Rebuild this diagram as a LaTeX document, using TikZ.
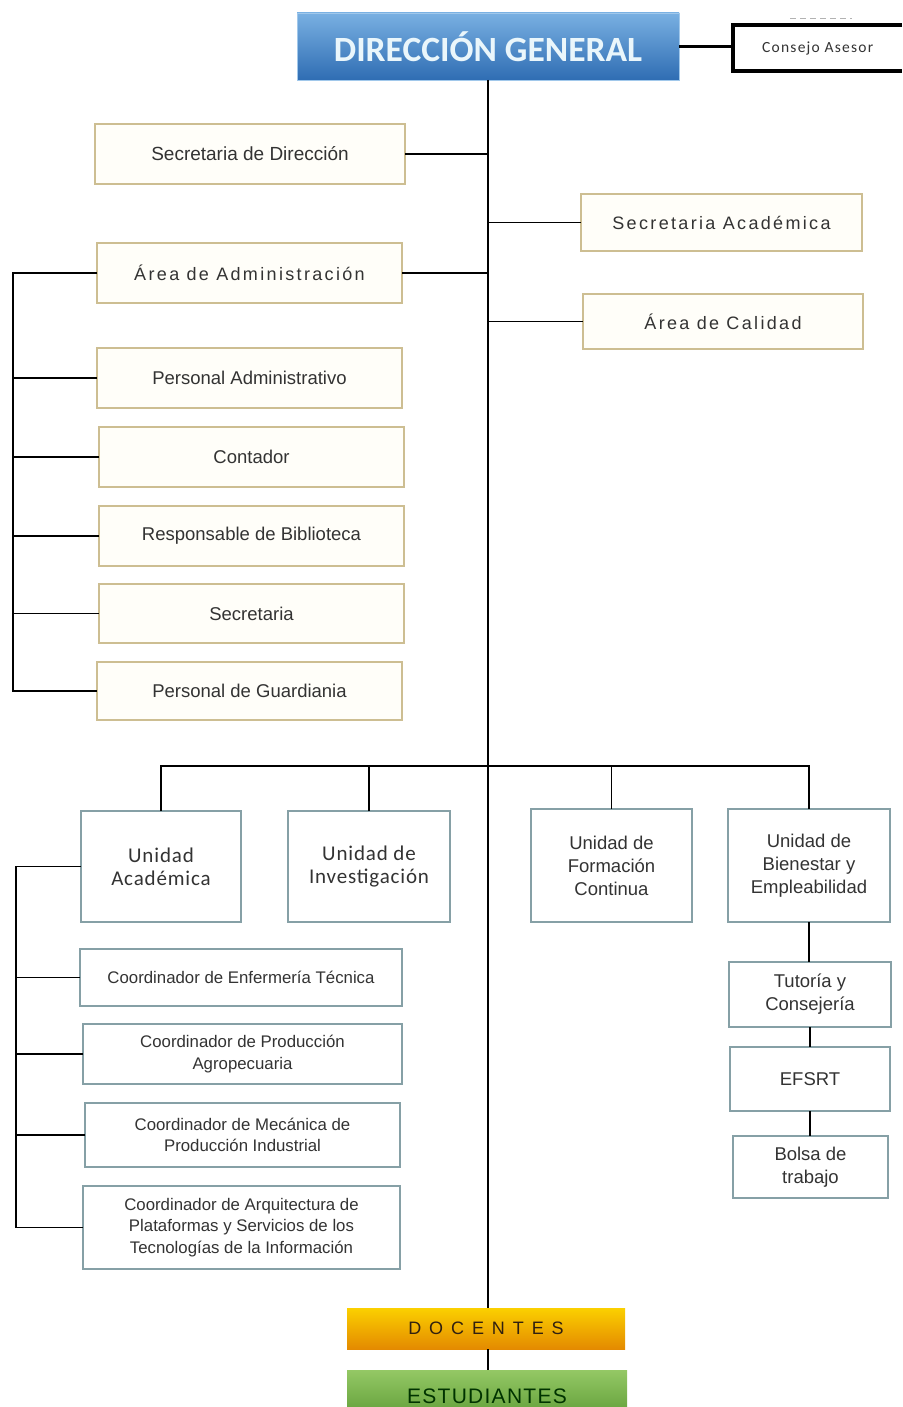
\documentclass[tikz,border=0pt]{standalone}
\usepackage{fontspec}
\setmainfont{Liberation Sans}
\newfontfamily\carl{Carlito}
\definecolor{tanc}{HTML}{CDBE92}
\definecolor{tanfill}{HTML}{FFFEF9}
\definecolor{tealc}{HTML}{86A0A6}
\definecolor{txt}{HTML}{333333}
\definecolor{dgtop}{HTML}{79B0E2}
\definecolor{dgbot}{HTML}{2F6DB3}
\definecolor{dgtxt}{HTML}{EAF6FB}
\definecolor{doctop}{HTML}{FBD000}
\definecolor{docbot}{HTML}{E48A00}
\definecolor{esttop}{HTML}{94C865}
\definecolor{estbot}{HTML}{5C9A34}
\tikzset{
  base/.style={draw, line width=1.5pt, inner sep=0pt, outer sep=0pt, anchor=north west, align=center, text=txt},
  tanbox/.style={base, draw=tanc, fill=tanfill},
  tealbox/.style={base, draw=tealc, fill=white},
  conn/.style={draw=black, line width=1.9pt},
  fA/.style={font=\fontsize{18.5}{23}\selectfont},
  fS/.style={font=\fontsize{18}{23}\selectfont\addfontfeature{LetterSpace=13}},
  fC/.style={font=\fontsize{16.8}{21.5}\selectfont},
  fU/.style={font=\carl\fontsize{21}{23}\selectfont\addfontfeature{LetterSpace=4}},
}
\begin{document}
\begin{tikzpicture}[x=1pt,y=-1pt]
\useasboundingbox (0,0) rectangle (902,1407);
% Direccion General
\node[base, draw=dgtop!70!white, line width=0.8pt, top color=dgtop, bottom color=dgbot,
      minimum width=382, minimum height=67, text=dgtxt,
      font=\carl\bfseries\fontsize{35.5}{37}\selectfont] (dg) at (297,13) {DIRECCIÓN GENERAL};
% Consejo Asesor
\node[inner sep=0pt, anchor=west, minimum width=169, minimum height=46, text=txt,
      font=\carl\fontsize{15.5}{17}\selectfont\addfontfeature{LetterSpace=8}] (ca) at (733,48) {Consejo Asesor};
\draw[line width=3.5pt] (902,25) -- (733,25) -- (733,71) -- (902,71);
\draw[gray!60, line width=1pt, dash pattern=on 6pt off 4pt] (790,19) -- (852,19);
\draw[line width=2.6pt] (dg.east) -- (dg.east -| ca.west);
% upper group
\node[tanbox, fA, font=\fontsize{19}{23}\selectfont, minimum width=310, minimum height=60] (sd) at (95,124) {Secretaria de Dirección};
\node[tanbox, fS, minimum width=281, minimum height=57] (sa) at (581,194) {Secretaria Académica};
\node[tanbox, fS, minimum width=305, minimum height=60] (aa) at (97,243) {Área de Administración};
\node[tanbox, fS, minimum width=280, minimum height=55] (ac) at (583,294) {Área de Calidad};
\node[tanbox, fA, minimum width=305, minimum height=60] (pa) at (97,348) {Personal Administrativo};
\node[tanbox, fA, minimum width=305, minimum height=60] (co) at (99,427) {Contador};
\node[tanbox, fA, minimum width=305, minimum height=60] (rb) at (99,506) {Responsable de Biblioteca};
\node[tanbox, fA, minimum width=305, minimum height=59] (se) at (99,584) {Secretaria};
\node[tanbox, fA, minimum width=305, minimum height=58] (pg) at (97,662) {Personal de Guardiania};
% units
\node[tealbox, fU, minimum width=160, minimum height=111] (ua) at (81,811) {Unidad\\Académica};
\node[tealbox, fU, minimum width=162, minimum height=111] (ui) at (288,811) {Unidad de\\Investigación};
\node[tealbox, fA, minimum width=161, minimum height=113] (ufc) at (531,809) {Unidad de\\Formación\\Continua};
\node[tealbox, fA, minimum width=162, minimum height=113] (ube) at (728,809) {Unidad de\\Bienestar y\\Empleabilidad};
% coordinators
\node[tealbox, fC, minimum width=322, minimum height=57] (ce) at (80,949) {Coordinador de Enfermería Técnica};
\node[tealbox, fC, minimum width=319, minimum height=60] (cpa) at (83,1024) {Coordinador de Producción\\Agropecuaria};
\node[tealbox, fC, minimum width=315, minimum height=64] (cm) at (85,1103) {Coordinador de Mecánica de\\Producción Industrial};
\node[tealbox, fC, minimum width=317, minimum height=83] (car) at (83,1186) {Coordinador de Arquitectura de\\Plataformas y Servicios de los\\Tecnologías de la Información};
% welfare chain
\node[tealbox, fA, minimum width=162, minimum height=65] (tc) at (729,962) {Tutoría y\\Consejería};
\node[tealbox, fA, minimum width=160, minimum height=64] (ef) at (730,1047) {EFSRT};
\node[tealbox, fA, minimum width=155, minimum height=62] (bo) at (733,1136) {Bolsa de\\trabajo};
% docentes / estudiantes
\node[base, draw=none, top color=doctop, bottom color=docbot, minimum width=278, minimum height=41,
      text=black!75!brown, font=\fontsize{18}{20}\selectfont\addfontfeature{LetterSpace=44}] (doc) at (347,1308) {DOCENTES};
\node[base, draw=none, top color=esttop, bottom color=estbot, minimum width=280, minimum height=52,
      text=black!80!green, font=\fontsize{21}{22}\selectfont\addfontfeature{LetterSpace=6}] (est) at (347,1370) {ESTUDIANTES};
% trunk
\draw[conn] (dg.south) -- (dg.south |- doc.north);
\draw[conn] (dg.south |- doc.south) -- (dg.south |- est.north);
\foreach \n in {sd,aa} \draw[conn] (\n.east) -- (\n.east -| dg.south);
\foreach \n in {sa,ac} \draw[conn] (\n.west) -- (\n.west -| dg.south);
% admin bracket
\coordinate (lb1) at (13,0);
\draw[conn] (aa.west) -- (aa.west -| lb1) -- (pg.west -| lb1) -- (pg.west);
\foreach \n in {pa,co,rb,se} \draw[conn] (\n.west) -- (\n.west -| lb1);
% bus
\coordinate (bus) at (488,766);
\draw[conn] (ua.north) |- (bus) -| (ube.north);
\draw[conn] (ui.north) -- (ui.north |- bus);
\draw[conn] (ufc.north) -- (ufc.north |- bus);
% academic bracket
\coordinate (lb2) at (16,0);
\draw[conn] (ua.west) -- (ua.west -| lb2) -- (car.west -| lb2) -- (car.west);
\foreach \n in {ce,cpa,cm} \draw[conn] (\n.west) -- (\n.west -| lb2);
% chain
\draw[conn] (ube.south) -- (ube.south |- tc.north);
\draw[conn] (tc.south) -- (tc.south |- ef.north);
\draw[conn] (ef.south) -- (ef.south |- bo.north);
\end{tikzpicture}
\end{document}
